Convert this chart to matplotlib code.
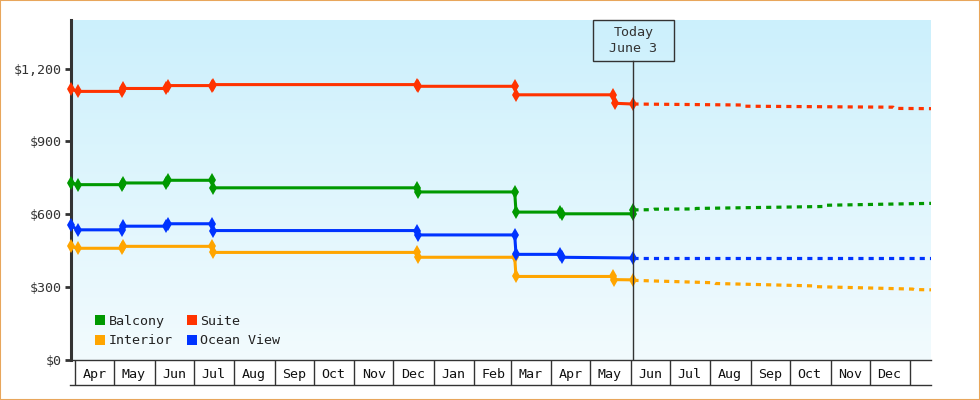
import datetime as dt
import numpy as np
import matplotlib
matplotlib.use('Agg')
import matplotlib.pyplot as plt
import matplotlib.dates as mdates
from matplotlib.lines import Line2D
from matplotlib.patches import Rectangle
from matplotlib.colors import LinearSegmentedColormap

plt.rcParams['font.family'] = ['DejaVu Sans Mono']

# price history per cabin type (two points at each change date)
balcony_dates = ['2022-03-29', '2022-04-03', '2022-05-07', '2022-05-08', '2022-06-10', '2022-06-11',
                 '2022-07-15', '2022-07-16', '2022-12-19', '2022-12-20', '2023-03-04', '2023-03-05',
                 '2023-04-08', '2023-04-09', '2023-06-03', '2023-06-03']
balcony_prices = [730, 722, 722, 729, 729, 740, 740, 709, 709, 692, 692, 609, 609, 602, 602, 618]

suite_dates = ['2022-03-29', '2022-04-03', '2022-05-07', '2022-05-08', '2022-06-10', '2022-06-11',
               '2022-07-15', '2022-07-16', '2022-12-19', '2022-12-20', '2023-03-04', '2023-03-05',
               '2023-05-18', '2023-05-20', '2023-06-03']
suite_prices = [1116, 1106, 1106, 1118, 1118, 1130, 1130, 1134, 1134, 1127, 1127, 1092, 1092, 1057, 1054]

interior_dates = ['2022-03-29', '2022-04-03', '2022-05-07', '2022-05-08', '2022-07-15', '2022-07-16',
                  '2022-12-19', '2022-12-20', '2023-03-04', '2023-03-05', '2023-05-18', '2023-05-19',
                  '2023-06-03']
interior_prices = [468, 460, 460, 468, 468, 443, 443, 423, 423, 344, 344, 331, 330]

ocean_dates = ['2022-03-29', '2022-04-03', '2022-05-07', '2022-05-08', '2022-06-10', '2022-06-11',
               '2022-07-15', '2022-07-16', '2022-12-19', '2022-12-20', '2023-03-04', '2023-03-05',
               '2023-04-08', '2023-04-09', '2023-06-03']
ocean_prices = [554, 536, 536, 551, 551, 561, 561, 533, 533, 515, 515, 435, 435, 423, 420]

# forecasts after today
balcony_fc_dates = ['2023-06-03', '2023-06-18', '2023-06-19', '2023-07-20', '2023-07-21',
                    '2023-10-26', '2023-10-27', '2024-01-17']
balcony_fc_prices = [618, 619, 621, 622, 624, 632, 637, 645]

suite_fc_dates = ['2023-06-03', '2023-08-26', '2023-08-27', '2023-12-19', '2023-12-20', '2024-01-17']
suite_fc_prices = [1054, 1050, 1045, 1041, 1036, 1035]

interior_fc_dates = ['2023-06-03', '2023-08-04', '2023-08-05', '2023-10-20', '2023-10-21',
                     '2024-01-03', '2024-01-04', '2024-01-17']
interior_fc_prices = [328, 318, 315, 305, 302, 292, 290, 289]

ocean_fc_dates = ['2023-06-03', '2024-01-17']
ocean_fc_prices = [420, 420]

y_ticks = [0, 300, 600, 900, 1200]
month_labels = ['Apr', 'May', 'Jun', 'Jul', 'Aug', 'Sep', 'Oct', 'Nov', 'Dec', 'Jan', 'Feb',
                'Mar', 'Apr', 'May', 'Jun', 'Jul', 'Aug', 'Sep', 'Oct', 'Nov', 'Dec']
today_str = '2023-06-03'

colors = {'Balcony': '#009900', 'Suite': '#ff3300', 'Interior': '#ffa500', 'Ocean View': '#0033ff'}


def to_dates(lst):
    return [dt.datetime.strptime(s, '%Y-%m-%d') for s in lst]


fig = plt.figure(figsize=(9.8, 4.0), dpi=100)
ax = fig.add_axes([71 / 980, 40 / 400, 860 / 980, 340 / 400])

x0 = dt.datetime(2022, 3, 29)
x1 = dt.datetime(2024, 1, 17)

# gradient background
bg = LinearSegmentedColormap.from_list('bg', ['#ccf0fc', '#f2fbfe'])
ax.imshow(np.linspace(0, 1, 256).reshape(-1, 1), cmap=bg, aspect='auto', zorder=0,
          extent=[mdates.date2num(x0), mdates.date2num(x1), 0, 1400])

series = [
    ('Balcony', balcony_dates, balcony_prices, balcony_fc_dates, balcony_fc_prices),
    ('Suite', suite_dates, suite_prices, suite_fc_dates, suite_fc_prices),
    ('Interior', interior_dates, interior_prices, interior_fc_dates, interior_fc_prices),
    ('Ocean View', ocean_dates, ocean_prices, ocean_fc_dates, ocean_fc_prices),
]
for name, hd, hp, fd, fp in series:
    c = colors[name]
    ax.plot(to_dates(fd), fp, color=c, lw=2.3, dashes=(1.6, 1.6), zorder=3)
    ax.plot(to_dates(hd), hp, color=c, lw=2.2, marker='d', markersize=7,
            markeredgewidth=0, zorder=4, clip_on=False)

ax.set_xlim(x0, x1)
ax.set_ylim(0, 1400)

# today marker
today = dt.datetime.strptime(today_str, '%Y-%m-%d')
box_h = 41 / 340
ax.axvline(today, ymin=0, ymax=1 - box_h, color='#333333', lw=1, zorder=5)
tn = mdates.date2num(today)
ax.add_patch(Rectangle((tn - 31, 1 - box_h), 62, box_h, transform=ax.get_xaxis_transform(),
                       fill=False, ec='#333333', lw=1, clip_on=False, zorder=5))
ax.text(today, 1 - box_h / 2, 'Today\nJune 3', transform=ax.get_xaxis_transform(),
        ha='center', va='center', fontsize=9.6, color='#333333', linespacing=1.35)

# y axis
ax.set_yticks(y_ticks)
ax.set_yticklabels(['$' + format(v, ',') for v in y_ticks])
ax.tick_params(axis='y', length=4, width=2, color='#333333', pad=3,
               labelsize=9.6, labelcolor='#333333')

# month boxes along x
bounds = [dt.datetime(2022 + (3 + i) // 12, (3 + i) % 12 + 1, 1) for i in range(22)]
mids = [b + dt.timedelta(days=15) for b in bounds[:-1]]
ax.set_xticks(bounds, minor=True)
ax.set_xticks(mids)
ax.set_xticklabels(month_labels)
ax.tick_params(axis='x', which='minor', length=18, width=1, color='#333333', direction='out')
ax.tick_params(axis='x', which='major', length=0, pad=5.5, labelsize=9.6, labelcolor='#111111')

for s in ['top', 'right']:
    ax.spines[s].set_visible(False)
ax.spines['left'].set_linewidth(2.2)
ax.spines['left'].set_color('#333333')
ax.spines['bottom'].set_linewidth(1)
ax.spines['bottom'].set_color('#333333')
fig.add_artist(Line2D([70 / 980, 931 / 980], [15 / 400, 15 / 400], color='#333333', lw=1))

# legend
handles = [Line2D([], [], ls='', marker='s', markersize=7.5, markeredgewidth=0, color=colors[n])
           for n in ['Balcony', 'Interior', 'Suite', 'Ocean View']]
ax.legend(handles, ['Balcony', 'Interior', 'Suite', 'Ocean View'], ncol=2, frameon=False,
          loc='lower left', bbox_to_anchor=(0.02, 0.018), fontsize=9.6, handlelength=0.8,
          handletextpad=0.25, columnspacing=1.0, labelspacing=0.5, borderpad=0,
          labelcolor='#222222')

fig.add_artist(Rectangle((0, 0), 1, 1, transform=fig.transFigure, fill=False,
                         ec='#e8a65c', lw=1.5))

fig.savefig('out.png', dpi=100)
